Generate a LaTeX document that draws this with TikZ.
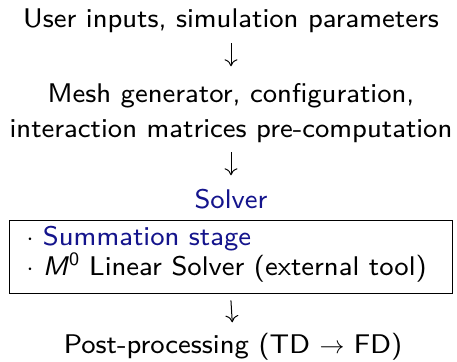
\documentclass[tikz,border=0pt]{standalone}
\usepackage{fontspec}
\setsansfont{lmsans8-regular.otf}[ItalicFont=lmsans8-oblique.otf]
\usetikzlibrary{arrows.meta}
\definecolor{struct}{RGB}{20,20,140}
\begin{document}
\begin{tikzpicture}[x=1pt,y=-1pt,
  txt/.style={inner sep=0pt, text height=18.5pt, text depth=6pt,
    font=\fontsize{27}{32}\sffamily},
  flow/.style={-{Computer Modern Rightarrow[length=7pt,width=13pt]}, line width=1pt}]
\useasboundingbox (0,0) rectangle (457,361);
\node[txt, anchor=base] (u) at (231,27.3) {User inputs, simulation parameters};
\node[txt, anchor=base] (m1) at (231,102) {Mesh generator, configuration,};
\node[txt, anchor=base] (m2) at (231,137) {interaction matrices pre-computation};
\node[txt, anchor=base, text=struct] (s) at (231,208) {Solver};
\node[draw, line width=0.8pt, minimum width=443pt, minimum height=73pt, inner sep=0pt] (box) at (230.5,256.5) {};
\node[txt, anchor=base west] (b1) at (26.3,245) {$\cdot$ \textcolor{struct}{Summation stage}};
\node[txt, anchor=base west] (b2) at (26.3,275) {$\cdot$ \textit{M}\textsuperscript{0} Linear Solver (external tool)};
\node[txt, anchor=base] (p) at (233,353) {Post-processing (TD $\rightarrow$ FD)};
\draw[flow, shorten <=9.7pt, shorten >=17pt] (u.south) -- (m1.north);
\draw[flow, shorten <=9pt, shorten >=14pt] (m2.south) -- (s.north);
\draw[flow, shorten <=7pt, shorten >=12pt] (box.south) -- (p.north);
\end{tikzpicture}
\end{document}
